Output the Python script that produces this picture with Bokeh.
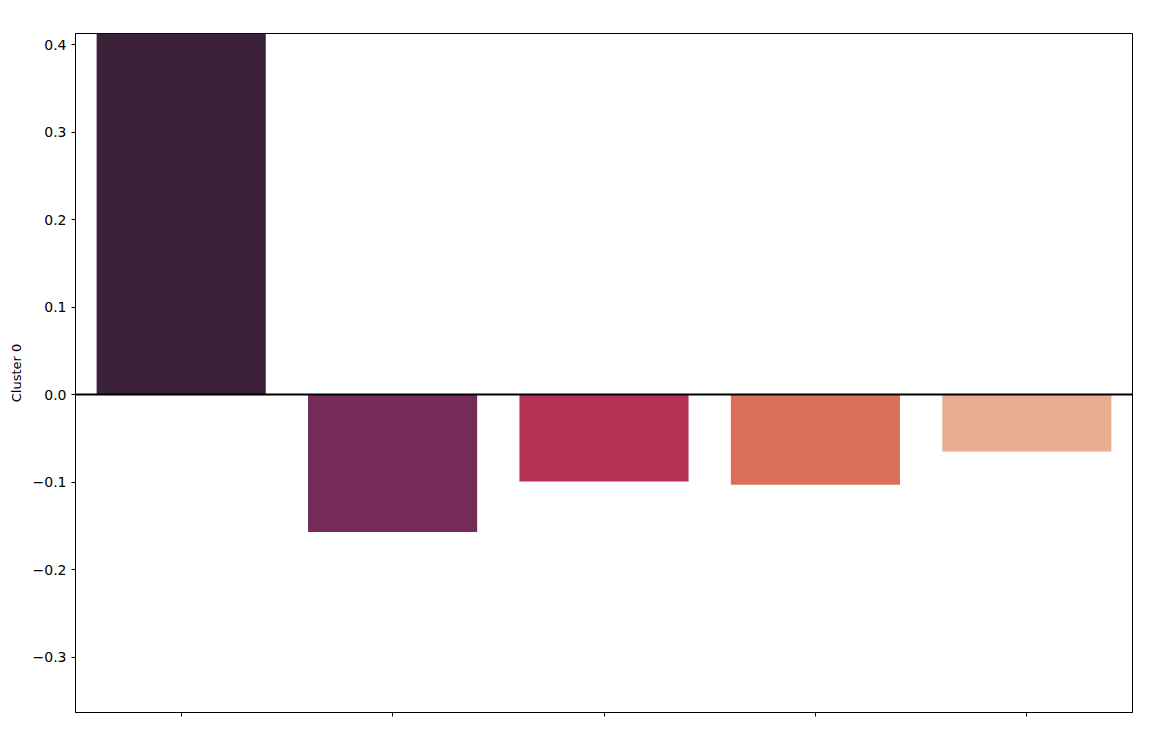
from bokeh.plotting import figure
from bokeh.models import ColumnDataSource, Range1d, FixedTicker, Span, CustomJSTickFormatter
from bokeh.embed import file_html
from bokeh.resources import INLINE

categories = ["0", "1", "2", "3", "4"]
cluster0 = [0.50, -0.157, -0.0995, -0.103, -0.065]
colors = ["#3b2039", "#752b58", "#b33155", "#dc6f5a", "#e9ae91"]
y_ticks = [-0.3, -0.2, -0.1, 0.0, 0.1, 0.2, 0.3, 0.4]

xpos = list(range(len(categories)))
src = ColumnDataSource(dict(x=xpos, top=cluster0, color=colors, cat=categories))

p = figure(width=1160, height=738, output_backend="svg", toolbar_location=None,
           x_range=Range1d(-0.5, 4.5), y_range=Range1d(-0.3634, 0.4126),
           min_border_left=75, min_border_right=28, min_border_top=33, min_border_bottom=26)

p.vbar(x="x", top="top", bottom=0, width=0.8, color="color", line_color=None, source=src)
p.add_layout(Span(location=0, dimension="width", line_color="black", line_width=2))

p.grid.visible = False
p.outline_line_color = "black"
p.outline_line_width = 1
p.background_fill_color = "white"
p.border_fill_color = "white"

for ax in (p.xaxis[0], p.yaxis[0]):
    ax.axis_line_color = "black"
    ax.major_tick_line_color = "black"
    ax.major_tick_out = 4
    ax.major_tick_in = 0
    ax.minor_tick_line_color = None
    ax.major_label_text_font = "DejaVu Sans"
    ax.major_label_text_font_size = "14px"
    ax.major_label_text_color = "black"

p.xaxis.ticker = FixedTicker(ticks=xpos)
p.xaxis.formatter = CustomJSTickFormatter(code="return '';")
p.xaxis.major_label_standoff = 0

p.yaxis.ticker = FixedTicker(ticks=y_ticks)
p.yaxis.formatter = CustomJSTickFormatter(code="return tick.toFixed(1).replace('-', '\u2212');")
p.yaxis.major_label_standoff = 5
p.yaxis.axis_label = "Cluster 0"
p.yaxis.axis_label_text_font = "DejaVu Sans"
p.yaxis.axis_label_text_font_size = "13px"
p.yaxis.axis_label_text_font_style = "normal"
p.yaxis.axis_label_text_color = "black"
p.yaxis.axis_label_standoff = 6

open("out.html", "w").write(file_html(p, INLINE))
